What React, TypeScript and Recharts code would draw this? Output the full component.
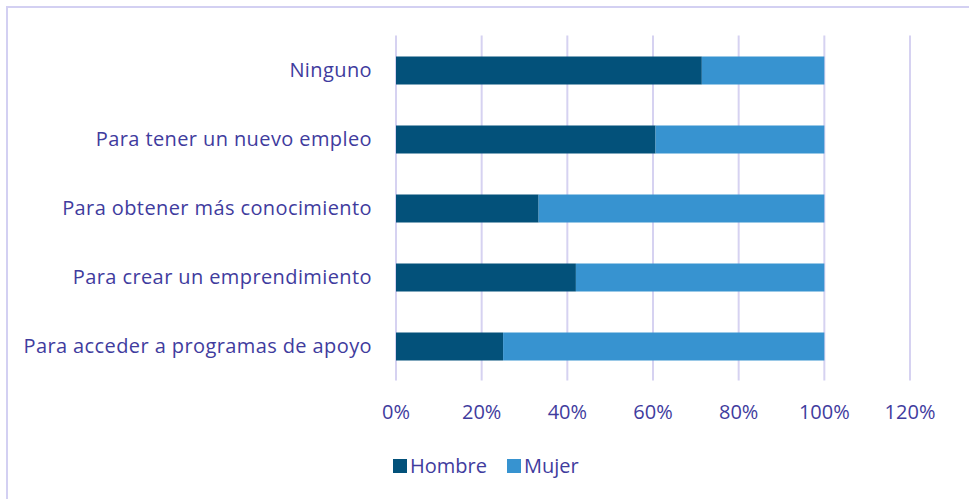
import { Bar, BarChart, CartesianGrid, XAxis, YAxis } from "recharts"

const categories = [
    "Ninguno",
    "Para tener un nuevo empleo",
    "Para obtener más conocimiento ",
    "Para crear un emprendimiento",
    "Para acceder a programas de apoyo",
]
const hombre = [0.714, 0.606, 0.333, 0.42, 0.25]
const mujer = [0.286, 0.394, 0.667, 0.58, 0.75]
const xTicks = [0, 0.2, 0.4, 0.6, 0.8, 1, 1.2]
const seriesNames = ["Hombre", "Mujer"]
const seriesColors = ["#03517a", "#3793d0"]

const data = categories.map((name, i) => ({ name, hombre: hombre[i], mujer: mujer[i] }))

const textColor = "#3f3c9e"
const gridColor = "#d6d2f1"
const font = "'Open Sans', sans-serif"

export default function App() {
    return (
        <div style={{ position: "fixed", left: 0, top: 0, width: 969, height: 499, background: "#fff", fontFamily: font }}>
            <div
                style={{
                    position: "absolute",
                    left: 6,
                    top: 6,
                    width: 980,
                    height: 510,
                    border: "2px solid #d3d0f2",
                    boxSizing: "border-box",
                }}
            />
            <BarChart
                width={969}
                height={499}
                data={data}
                layout="vertical"
                barSize={28}
                margin={{ top: 35.5, right: 59, left: 0, bottom: 78.5 }}
                style={{ position: "absolute", left: 0, top: 0 }}
            >
                <CartesianGrid horizontal={false} stroke={gridColor} strokeWidth={2} />
                <XAxis
                    type="number"
                    domain={[0, 1.2]}
                    ticks={xTicks}
                    tickFormatter={(v: number) => `${Math.round(v * 100)}%`}
                    axisLine={false}
                    tickLine={false}
                    tickSize={0}
                    tickMargin={24}
                    height={40}
                    tick={{ fill: textColor, fontSize: 20, fontFamily: font }}
                />
                <YAxis
                    type="category"
                    dataKey="name"
                    width={396}
                    axisLine={false}
                    tickLine={false}
                    tickSize={0}
                    tickMargin={24}
                    tick={{ fill: textColor, fontSize: 20, fontFamily: font, letterSpacing: 0.4 }}
                />
                <Bar dataKey="hombre" name="Hombre" stackId="a" fill={seriesColors[0]} isAnimationActive={false} />
                <Bar dataKey="mujer" name="Mujer" stackId="a" fill={seriesColors[1]} isAnimationActive={false} />
            </BarChart>
            <div
                style={{
                    position: "absolute",
                    left: 393,
                    top: 452,
                    display: "flex",
                    alignItems: "center",
                    fontSize: 20,
                    color: textColor,
                }}
            >
                {seriesNames.map((n, i) => (
                    <div key={n} style={{ display: "flex", alignItems: "center", marginRight: 20 }}>
                        <span style={{ display: "inline-block", width: 14, height: 14, background: seriesColors[i], marginRight: 3 }} />
                        <span>{n}</span>
                    </div>
                ))}
            </div>
        </div>
    )
}
